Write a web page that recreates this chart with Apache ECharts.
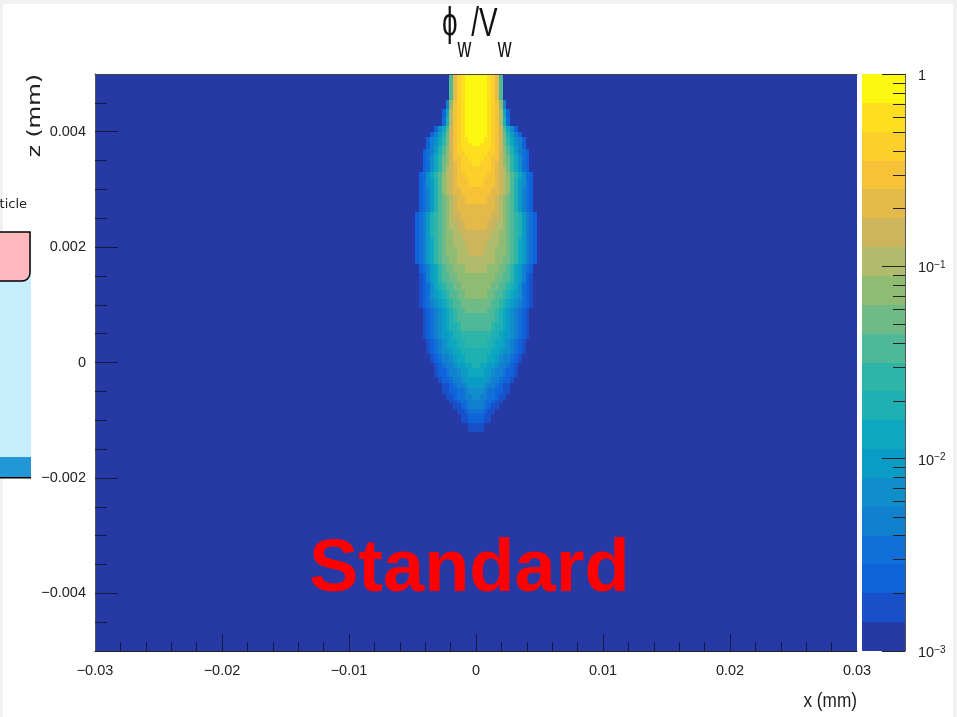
<!DOCTYPE html>
<html>
<head>
<meta charset="utf-8">
<style>html,body{margin:0;padding:0;background:#fff}#c{width:957px;height:717px;filter:blur(0.7px)}</style>
<script src="https://cdn.jsdelivr.net/npm/echarts@6/dist/echarts.min.js"></script>
</head>
<body>
<div id="c"></div>
<script>
// colour bands, low to high
const bandEdges = [0.001,0.00141,0.002,0.00282,0.00398,0.00562,0.00794,0.0112,0.0158,0.0224,0.0316,0.0447,0.0631,0.0891,0.126,0.178,0.251,0.355,0.501,0.708,1];
const bandColors = ['#2739a5','#1750c8','#0e62da','#1070d8','#1080cf','#0f8ecb','#0b9cc6','#0da8c0','#1eb0b3','#2db5a8','#4fb997','#6fba85','#8fbc72','#b0bb6c','#cdb55e','#e3b94a','#f5c238','#fdcf2b','#fddf1f','#fdf80f'];
const colorbarMinor = [0.002,0.003,0.004,0.005,0.006,0.007,0.008,0.009,0.02,0.03,0.04,0.05,0.06,0.07,0.08,0.09,0.2,0.3,0.4,0.5,0.6,0.7,0.8,0.9];
const xLabels = [-0.03,-0.02,-0.01,0,0.01,0.02,0.03];
const xMajor = [-0.02,-0.01,0,0.01,0.02];
const xMinor = [-0.028,-0.026,-0.024,-0.022,-0.018,-0.016,-0.014,-0.012,-0.008,-0.006,-0.004,-0.002,0.002,0.004,0.006,0.008,0.012,0.014,0.016,0.018,0.022,0.024,0.026,0.028];
const yMajor = [-0.004,-0.002,0,0.002,0.004];
const yMinor = [-0.0045,-0.0035,-0.003,-0.0025,-0.0015,-0.001,-0.0005,0.0005,0.001,0.0015,0.0025,0.003,0.0035,0.0045];
const xBin = 0.0003, zBin = 0.00005, zTop = 0.005;
// Plume: [rows in this run, band of each cell from x=0 outward] (base-20 digits), mirrored about x=0, from the top down
const plumeRuns = [
[9,'jjjihfa'],[3,'jjjihgc4'],[3,'jjjihgd72'],[3,'jjjihgd83'],[2,'jjjihgea752'],[2,'jjjihgeb8642'],
[2,'jjiihgeb97542'],[1,'jiiihgeb97542'],[1,'iiiihgeca8642'],[2,'iiihhgeca86432'],[2,'iihhggecb97532'],[2,'ihhhgfecb97532'],
[2,'hhhhgfedb97532'],[2,'hhhggfedca97532'],[3,'hhgggfedca86532'],[3,'ggggffedca86432'],[3,'gggffedcba86432'],[3,'fffffedcba86432'],
[3,'ffffeedcba986432'],[3,'fffeeddcba986432'],[3,'eeeeddccba986432'],[3,'eeedddccba976432'],[3,'eedddcccba976432'],[3,'dddddccbba976432'],
[3,'dddcccbba976432'],[3,'cccccbbaa976421'],[3,'ccccbbaa9875321'],[3,'cccbbaa98765321'],[3,'bbbbaa987654321'],[2,'bbbaa987654321'],
[3,'aaaaa987654321'],[3,'aaaa9887654321'],[3,'99998876654321'],[3,'9998877654321'],[2,'8888776554321'],[3,'888776544321'],
[2,'87766544321'],[3,'77665443221'],[2,'6665443221'],[2,'665443211'],[2,'554332211'],[2,'54433211'],[1,'4433211'],
[2,'443211'],[2,'33211'],[3,'2211'],[3,'11']
];

const cells = [];
let row = 0;
plumeRuns.forEach(([n, bands]) => {
  for (let k = 0; k < n; k++, row++) {
    const z1 = zTop - row * zBin, z0 = z1 - zBin;
    [...bands].forEach((ch, i) => {
      const band = parseInt(ch, 20);
      cells.push([i * xBin, (i + 1) * xBin, z0, z1, band]);
      cells.push([-(i + 1) * xBin, -i * xBin, z0, z1, band]);
    });
  }
});
const bandData = bandColors.map((_, i) => [0, 1, bandEdges[i], bandEdges[i + 1], i]);

const SANS = '"Liberation Sans",sans-serif';
const labelColor = '#222';
const tickColor = '#141a40';
const LABEL = 14.5;
const fmt = v => v === 0 ? '0' : String(+v.toFixed(4)).replace('-', '\u2212');
const rectItem = (params, api) => {
  const a = api.coord([api.value(0), api.value(3)]);
  const b = api.coord([api.value(1), api.value(2)]);
  const x0 = Math.round(a[0]), y0 = Math.round(a[1]), x1 = Math.round(b[0]), y1 = Math.round(b[1]);
  return {type: 'rect', shape: {x: x0, y: y0, width: x1 - x0, height: y1 - y0}, style: {fill: bandColors[api.value(4)]}};
};

const chart = echarts.init(document.getElementById('c'), null, {renderer: 'canvas'});
chart.setOption({
  animation: false,
  backgroundColor: '#ffffff',
  grid: [
    {left: 95, width: 762, top: 74, height: 577, show: true, backgroundColor: bandColors[0], borderWidth: 0},
    {left: 862, width: 43, top: 74, height: 577, show: false}
  ],
  xAxis: [
    {
      gridIndex: 0, type: 'value', min: -0.03, max: 0.03, position: 'bottom', z: 10,
      splitLine: {show: false},
      axisLine: {show: true, onZero: false, lineStyle: {color: '#222', width: 1}},
      axisTick: {show: true, inside: true, length: 17, customValues: xMajor, lineStyle: {color: tickColor, width: 1}},
      axisLabel: {margin: 12, fontFamily: SANS, fontSize: LABEL, color: labelColor, customValues: xLabels, formatter: fmt}
    },
    {
      gridIndex: 0, type: 'value', min: -0.03, max: 0.03, position: 'bottom', z: 10,
      splitLine: {show: false}, axisLabel: {show: false},
      axisLine: {show: false, onZero: false},
      axisTick: {show: true, inside: true, length: 9, customValues: xMinor, lineStyle: {color: tickColor, width: 1}}
    },
    {
      gridIndex: 0, type: 'value', min: -0.03, max: 0.03, position: 'top', z: 10,
      splitLine: {show: false}, axisTick: {show: false}, axisLabel: {show: false},
      axisLine: {show: true, onZero: false, lineStyle: {color: '#444', width: 1}}
    },
    {gridIndex: 1, type: 'value', min: 0, max: 1, show: false, splitLine: {show: false}}
  ],
  yAxis: [
    {
      gridIndex: 0, type: 'value', min: -0.005, max: 0.005, position: 'left', z: 10,
      splitLine: {show: false},
      axisLine: {show: true, onZero: false, lineStyle: {color: '#555', width: 1}},
      axisTick: {show: true, inside: true, length: 23, customValues: yMajor, lineStyle: {color: tickColor, width: 1}},
      axisLabel: {margin: 9, padding: [2, 0, 0, 0], fontFamily: SANS, fontSize: LABEL, color: labelColor, customValues: yMajor, formatter: fmt}
    },
    {
      gridIndex: 0, type: 'value', min: -0.005, max: 0.005, position: 'left', z: 10,
      splitLine: {show: false}, axisLine: {show: false, onZero: false}, axisLabel: {show: false},
      axisTick: {show: true, inside: true, length: 12, customValues: yMinor, lineStyle: {color: tickColor, width: 1}}
    },
    {
      gridIndex: 1, type: 'log', logBase: 10, min: 0.001, max: 1, position: 'right', z: 10,
      splitLine: {show: false},
      axisLine: {show: true, onZero: false, lineStyle: {color: '#555', width: 1}},
      axisTick: {show: true, inside: true, length: 23, lineStyle: {color: '#222', width: 1}},
      axisLabel: {
        margin: 13, padding: [4, 0, 0, 0], fontFamily: SANS, fontSize: LABEL, color: labelColor,
        formatter: v => {
          const e = Math.round(Math.log10(v));
          return e === 0 ? '{n|1}' : '{n|10}{e|\u2212' + (-e) + '}';
        },
        rich: {
          n: {fontFamily: SANS, fontSize: LABEL, color: labelColor},
          e: {fontFamily: SANS, fontSize: 10, color: labelColor, verticalAlign: 'top', padding: [0, 0, 6, 0]}
        }
      }
    }
  ],
  series: [
    {type: 'custom', name: 'plume', xAxisIndex: 0, yAxisIndex: 0, silent: true, clip: true, progressive: 0,
     renderItem: rectItem, encode: {x: [0, 1], y: [2, 3]}, data: cells, z: 2},
    {type: 'custom', name: 'colorbar', xAxisIndex: 3, yAxisIndex: 2, silent: true, progressive: 0,
     renderItem: rectItem, encode: {x: [0, 1], y: [2, 3]}, data: bandData, z: 2},
    {type: 'custom', name: 'colorbarMinorTicks', xAxisIndex: 3, yAxisIndex: 2, silent: true, progressive: 0, z: 5,
     renderItem: (params, api) => {
       const p = api.coord([1, api.value(0)]);
       const y = Math.round(p[1]) + 0.5;
       return {type: 'line', shape: {x1: p[0] - 12, y1: y, x2: p[0], y2: y}, style: {stroke: '#222', lineWidth: 1}};
     },
     encode: {y: 0}, data: colorbarMinor.map(v => [v])}
  ],
  graphic: [
    {type: 'rect', z: 50, shape: {x: 0, y: 0, width: 957, height: 4}, style: {fill: '#f1f1f1'}},
    {type: 'rect', z: 50, shape: {x: 0, y: 0, width: 3, height: 717}, style: {fill: '#f1f1f1'}},
    {type: 'rect', z: 50, shape: {x: 953, y: 0, width: 4, height: 717}, style: {fill: '#f1f1f1'}},
    {type: 'rect', z: 51, shape: {x: 0, y: 232, width: 31, height: 225}, style: {fill: '#c6eefc'}},
    {type: 'rect', z: 51, shape: {x: 0, y: 457, width: 31, height: 20}, style: {fill: '#2396d6'}},
    {type: 'rect', z: 52, shape: {x: 0, y: 477, width: 31, height: 1.5}, style: {fill: '#000'}},
    {type: 'rect', z: 53, shape: {x: -10, y: 232, width: 40, height: 49, r: [0, 0, 8, 0]}, style: {fill: '#ffb9bc', stroke: '#000', lineWidth: 1.5}},
    {type: 'text', z: 54, x: 27, y: 205, style: {text: 'ticle', fontFamily: '"DejaVu Sans"', fontSize: 13, fill: '#222', align: 'right', verticalAlign: 'middle'}},
    {type: 'text', z: 54, x: 36, y: 74, rotation: Math.PI / 2, scaleX: 1.37, style: {text: 'z (mm)', fontFamily: '"DejaVu Sans"', fontSize: 17, fill: '#222', align: 'right', verticalAlign: 'middle'}},
    {type: 'text', z: 54, x: 857, y: 701, scaleX: 0.82, style: {text: 'x (mm)', fontFamily: SANS, fontSize: 21, fill: '#222', align: 'right', verticalAlign: 'middle'}},
    {type: 'text', z: 54, x: 309, y: 571, style: {text: 'Standard', fontFamily: SANS, fontWeight: 'bold', fontSize: 74, fill: '#ff0000', align: 'left', verticalAlign: 'middle'}},
    {type: 'text', z: 54, x: 442, y: 4, scaleX: 0.68, style: {
      text: '{p|\u03D5}{s|w}{b|/V}{s|w}', fontFamily: SANS, align: 'left', verticalAlign: 'top', fill: '#111',
      rich: {
        p: {fontFamily: SANS, fontSize: 41, fill: '#111', verticalAlign: 'top', lineHeight: 58},
        b: {fontFamily: SANS, fontSize: 41, fill: '#111', verticalAlign: 'top', lineHeight: 54},
        s: {fontFamily: SANS, fontSize: 28, fill: '#111', verticalAlign: 'top', lineHeight: 20, padding: [31, 0, 0, 0]}
      }
    }}
  ]
});
</script>
</body>
</html>
